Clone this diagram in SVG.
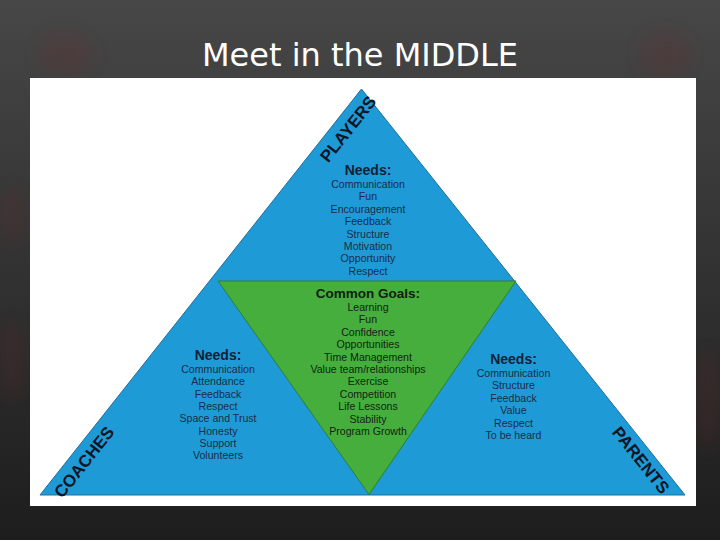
<svg xmlns="http://www.w3.org/2000/svg" width="720" height="540" viewBox="0 0 720 540">
  <defs>
    <linearGradient id="bg" x1="0" y1="0" x2="0" y2="1">
      <stop offset="0" stop-color="#474747"/>
      <stop offset="1" stop-color="#1d1d1d"/>
    </linearGradient>
    <filter id="blur" x="-50%" y="-50%" width="200%" height="200%">
      <feGaussianBlur stdDeviation="8"/>
    </filter>
    <style>
      .title { font-family: "DejaVu Sans", "Liberation Sans", sans-serif; font-size: 32px; fill: #ffffff; text-anchor: middle; }
      .head { font-family: "Liberation Sans", Arial, sans-serif; font-weight: bold; font-size: 14px; fill: #0f1f38; text-anchor: middle; }
      .item { font-family: "Liberation Sans", Arial, sans-serif; font-size: 10.6px; fill: #1a2c48; text-anchor: middle; }
      .ghead { font-family: "Liberation Sans", Arial, sans-serif; font-weight: bold; font-size: 13.5px; fill: #10200f; text-anchor: middle; }
      .gitem { font-family: "Liberation Sans", Arial, sans-serif; font-size: 10.6px; fill: #142414; text-anchor: middle; }
      .label { font-family: "Liberation Sans", Arial, sans-serif; font-weight: bold; font-size: 17px; fill: #0d1424; text-anchor: middle; }
      .deco { fill: #6a2c2c; opacity: 0.22; filter: url(#blur); }
    </style>
  </defs>

  <rect x="0" y="0" width="720" height="540" fill="url(#bg)"/>
  <g id="decor">
    <ellipse class="deco" cx="65" cy="55" rx="28" ry="22"/>
    <ellipse class="deco" cx="665" cy="55" rx="26" ry="24"/>
    <ellipse class="deco" cx="12" cy="215" rx="12" ry="28"/>
    <ellipse class="deco" cx="12" cy="360" rx="12" ry="40"/>
    <ellipse class="deco" cx="708" cy="400" rx="12" ry="50"/>
  </g>

  <text class="title" x="360" y="66">Meet in the MIDDLE</text>

  <rect x="30" y="78" width="666" height="428" fill="#ffffff"/>

  <g id="pyramid">
    <polygon points="361.5,89 40,495 685,495" fill="#1e9bd7" stroke="#1f6e9c" stroke-width="1"/>
  </g>

  <g id="node-common">
    <polygon points="218,281 516,281 369,494.5" fill="#45ae3c" stroke="#2f7f2a" stroke-width="1"/>
    <text class="ghead" x="368" y="298">Common Goals:</text>
    <text class="gitem" x="368" y="311">Learning</text>
    <text class="gitem" x="368" y="323.4">Fun</text>
    <text class="gitem" x="368" y="335.8">Confidence</text>
    <text class="gitem" x="368" y="348.2">Opportunities</text>
    <text class="gitem" x="368" y="360.6">Time Management</text>
    <text class="gitem" x="368" y="373">Value team/relationships</text>
    <text class="gitem" x="368" y="385.4">Exercise</text>
    <text class="gitem" x="368" y="397.8">Competition</text>
    <text class="gitem" x="368" y="410.2">Life Lessons</text>
    <text class="gitem" x="368" y="422.6">Stability</text>
    <text class="gitem" x="368" y="435">Program Growth</text>
  </g>

  <g id="node-players">
    <text class="label" transform="translate(348,129) rotate(-51.6)" x="0" y="6">PLAYERS</text>
    <text class="head" x="368" y="175">Needs:</text>
    <text class="item" x="368" y="188">Communication</text>
    <text class="item" x="368" y="200.4">Fun</text>
    <text class="item" x="368" y="212.8">Encouragement</text>
    <text class="item" x="368" y="225.2">Feedback</text>
    <text class="item" x="368" y="237.6">Structure</text>
    <text class="item" x="368" y="250">Motivation</text>
    <text class="item" x="368" y="262.4">Opportunity</text>
    <text class="item" x="368" y="274.8">Respect</text>
  </g>

  <g id="node-coaches">
    <text class="label" transform="translate(84,462) rotate(-51.6)" x="0" y="6">COACHES</text>
    <text class="head" x="218" y="359.5">Needs:</text>
    <text class="item" x="218" y="373">Communication</text>
    <text class="item" x="218" y="385.3">Attendance</text>
    <text class="item" x="218" y="397.6">Feedback</text>
    <text class="item" x="218" y="409.9">Respect</text>
    <text class="item" x="218" y="422.2">Space and Trust</text>
    <text class="item" x="218" y="434.5">Honesty</text>
    <text class="item" x="218" y="446.8">Support</text>
    <text class="item" x="218" y="459.1">Volunteers</text>
  </g>

  <g id="node-parents">
    <text class="label" transform="translate(641,460) rotate(51.4)" x="0" y="6">PARENTS</text>
    <text class="head" x="513.5" y="364">Needs:</text>
    <text class="item" x="513.5" y="377">Communication</text>
    <text class="item" x="513.5" y="389.4">Structure</text>
    <text class="item" x="513.5" y="401.8">Feedback</text>
    <text class="item" x="513.5" y="414.2">Value</text>
    <text class="item" x="513.5" y="426.6">Respect</text>
    <text class="item" x="513.5" y="439">To be heard</text>
  </g>
</svg>
